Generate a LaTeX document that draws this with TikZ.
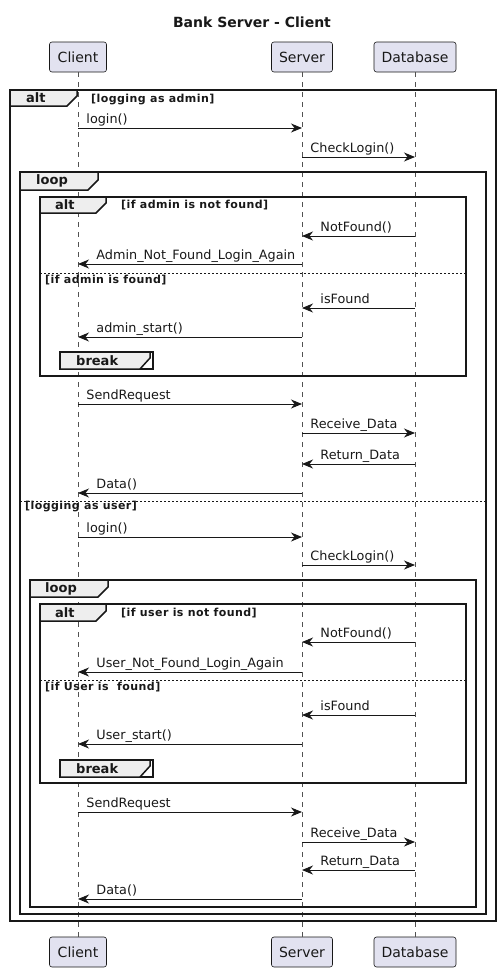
\documentclass[tikz,border=0pt]{standalone}
\usepackage{fontspec}
\setmainfont{DejaVu Sans}
\newfontfamily\guardfont[LetterSpace=4]{DejaVu Sans}
\usepackage{xcolor}
\usetikzlibrary{arrows.meta, calc}
\definecolor{ink}{HTML}{181818}
\definecolor{partfill}{HTML}{E2E2F0}
\definecolor{tabfill}{HTML}{EEEEEE}

\begin{document}
\begin{tikzpicture}[x=1pt, y=-1pt, >={Stealth[length=11pt, width=9pt, inset=3.5pt]},
  every node/.style={inner sep=0pt, text=ink},
  part/.style={draw=ink, line width=0.6pt, fill=partfill, rounded corners=2.5pt, minimum height=30pt, font=\fontsize{14}{16}\selectfont},
  lifeline/.style={draw=ink!75, line width=0.5pt, dash pattern=on 5pt off 5pt},
  msg/.style={->, draw=ink, line width=0.9pt},
  lblR/.style={at start, anchor=base west, xshift=8pt, yshift=5pt, font=\fontsize{12.8}{15}\selectfont},
  lblL/.style={at end, anchor=base west, xshift=18pt, yshift=5pt, font=\fontsize{12.8}{15}\selectfont},
  frame/.style={draw=ink, line width=1.5pt},
  tab/.style={draw=ink, line width=1.5pt, fill=tabfill},
  tablbl/.style={anchor=west, font=\bfseries\fontsize{13}{15}\selectfont},
  guard/.style={anchor=west, font=\guardfont\bfseries\fontsize{11}{13}\selectfont},
  sep/.style={draw=ink, line width=0.8pt, dash pattern=on 2pt off 2pt}]
  \useasboundingbox (0,0) rectangle (501,972);

  \node[font=\bfseries\fontsize{14}{16}\selectfont] (title) at (252,22) {Bank Server - Client};

  \node[part, minimum width=57pt] (cliTop) at (78,57) {Client};
  \node[part, minimum width=61pt] (srvTop) at (302,57) {Server};
  \node[part, minimum width=82pt] (dbTop) at (415,57) {Database};
  \node[part, minimum width=57pt] (cliBot) at (78,952) {Client};
  \node[part, minimum width=61pt] (srvBot) at (302,952) {Server};
  \node[part, minimum width=82pt] (dbBot) at (415,952) {Database};
  \draw[lifeline] (cliTop) -- (cliBot);
  \draw[lifeline] (srvTop) -- (srvBot);
  \draw[lifeline] (dbTop) -- (dbBot);

  \draw[frame] (10,90) rectangle (496,921);
  \draw[tab] (10,90) -- (77,90) -- (77,96) -- (67,106) -- (10,106) -- cycle;
  \node[tablbl] (altA) at (26,98) {alt};
  \node[guard] (grdA) at (91,100) {[logging as admin]};

  \draw[frame] (20,172) rectangle (486,914);
  \draw[tab] (20,172) -- (98,172) -- (98,180) -- (88,190) -- (20,190) -- cycle;
  \node[tablbl] (loopA) at (36,181) {loop};

  \draw[frame] (40,197) rectangle (466,376);
  \draw[tab] (40,197) -- (106,197) -- (106,203) -- (96,213) -- (40,213) -- cycle;
  \node[tablbl] (altB) at (55,205) {alt};
  \node[guard] (grdB) at (121,205) {[if admin is not found]};
  \draw[sep] (40,273) -- (466,273);
  \node[guard] (grdC) at (45,280) {[if admin is found]};

  \draw[frame] (60,352) rectangle (153,369);
  \draw[tab] (60,352) -- (150,352) -- (150,358) -- (140,369) -- (60,369) -- cycle;
  \node[tablbl] (brkA) at (76,361) {break};

  \draw[sep] (20,501) -- (486,501);
  \node[guard] (grdD) at (25,507) {[logging as user]};

  \draw[frame] (30,580) rectangle (476,907);
  \draw[tab] (30,580) -- (108,580) -- (108,587) -- (98,597) -- (30,597) -- cycle;
  \node[tablbl] (loopB) at (45,589) {loop};

  \draw[frame] (40,604) rectangle (466,783);
  \draw[tab] (40,604) -- (106,604) -- (106,611) -- (96,621) -- (40,621) -- cycle;
  \node[tablbl] (altC) at (55,613) {alt};
  \node[guard] (grdE) at (121,613) {[if user is not found]};
  \draw[sep] (40,680) -- (466,680);
  \node[guard] (grdF) at (45,687) {[if User is~~found]};

  \draw[frame] (60,760) rectangle (153,777);
  \draw[tab] (60,760) -- (150,760) -- (150,766) -- (140,777) -- (60,777) -- cycle;
  \node[tablbl] (brkB) at (76,769) {break};

  \draw[msg] (cliTop |- 0,128) -- (srvTop |- 0,128) node[lblR] (m1) {login()};
  \draw[msg] (srvTop |- 0,157) -- (dbTop |- 0,157) node[lblR] (m2) {CheckLogin()};
  \draw[msg] (dbTop |- 0,236) -- (srvTop |- 0,236) node[lblL] (m3) {NotFound()};
  \draw[msg] (srvTop |- 0,264) -- (cliTop |- 0,264) node[lblL] (m4) {Admin\_Not\_Found\_Login\_Again};
  \draw[msg] (dbTop |- 0,308) -- (srvTop |- 0,308) node[lblL] (m5) {isFound};
  \draw[msg] (srvTop |- 0,337) -- (cliTop |- 0,337) node[lblL] (m6) {admin\_start()};
  \draw[msg] (cliTop |- 0,404) -- (srvTop |- 0,404) node[lblR] (m7) {SendRequest};
  \draw[msg] (srvTop |- 0,433) -- (dbTop |- 0,433) node[lblR] (m8) {Receive\_Data};
  \draw[msg] (dbTop |- 0,464) -- (srvTop |- 0,464) node[lblL] (m9) {Return\_Data};
  \draw[msg] (srvTop |- 0,493) -- (cliTop |- 0,493) node[lblL] (m10) {Data()};
  \draw[msg] (cliTop |- 0,537) -- (srvTop |- 0,537) node[lblR] (m11) {login()};
  \draw[msg] (srvTop |- 0,565) -- (dbTop |- 0,565) node[lblR] (m12) {CheckLogin()};
  \draw[msg] (dbTop |- 0,642) -- (srvTop |- 0,642) node[lblL] (m13) {NotFound()};
  \draw[msg] (srvTop |- 0,672) -- (cliTop |- 0,672) node[lblL] (m14) {User\_Not\_Found\_Login\_Again};
  \draw[msg] (dbTop |- 0,715) -- (srvTop |- 0,715) node[lblL] (m15) {isFound};
  \draw[msg] (srvTop |- 0,744) -- (cliTop |- 0,744) node[lblL] (m16) {User\_start()};
  \draw[msg] (cliTop |- 0,812) -- (srvTop |- 0,812) node[lblR] (m17) {SendRequest};
  \draw[msg] (srvTop |- 0,842) -- (dbTop |- 0,842) node[lblR] (m18) {Receive\_Data};
  \draw[msg] (dbTop |- 0,870) -- (srvTop |- 0,870) node[lblL] (m19) {Return\_Data};
  \draw[msg] (srvTop |- 0,899) -- (cliTop |- 0,899) node[lblL] (m20) {Data()};
\end{tikzpicture}
\end{document}
